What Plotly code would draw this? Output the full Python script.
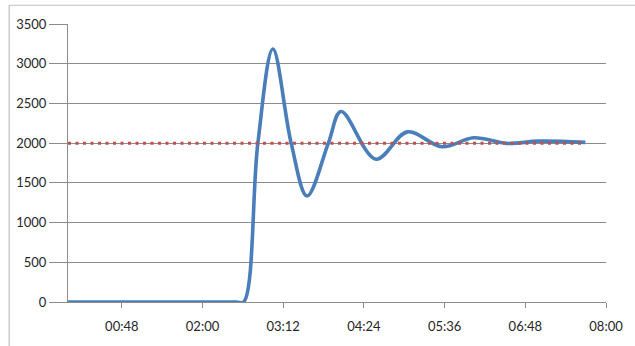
import plotly.graph_objects as go

# time in seconds, value
t_sec = [0, 150, 156.7, 169.4, 182.8, 199.1, 213.3, 232.3, 243.6, 274.7,
         302.8, 333.6, 362.0, 391.4, 419.8, 461.6]
values = [0, 0, 0, 2000, 3185, 2000, 1334, 2000, 2398, 1798,
          2142, 1955, 2067, 1997, 2025, 2010]
target_t = [0, 461.6]
target_v = [2000, 2000]

tick_vals = [48, 120, 192, 264, 336, 408, 480]
tick_text = ["00:48", "02:00", "03:12", "04:24", "05:36", "06:48", "08:00"]
y_ticks = [0, 500, 1000, 1500, 2000, 2500, 3000, 3500]

fig = go.Figure()
fig.add_trace(go.Scatter(x=t_sec, y=values, mode="lines",
                         line=dict(color="#4A7EBB", width=3.6, shape="spline", smoothing=1.0),
                         hoverinfo="skip"))
fig.add_trace(go.Scatter(x=target_t, y=target_v, mode="lines",
                         line=dict(color="#C0504D", width=3, dash="3px,4.5px"),
                         hoverinfo="skip"))

L, R, T, B = 68, 27, 24, 40
W, H = 635 - L - R, 346 - T - B
bx = (9 - L) / W
by = 1 + (T - 5) / H
fig.add_shape(type="line", xref="paper", yref="paper", x0=bx, x1=(640 - L) / W, y0=by, y1=by,
              line=dict(color="#BFBFBF", width=1.2))
fig.add_shape(type="line", xref="paper", yref="paper", x0=bx, x1=bx, y0=by, y1=-(B + 10) / H,
              line=dict(color="#BFBFBF", width=1.2))

fig.update_layout(
    width=635, height=346,
    margin=dict(l=L, r=R, t=T, b=B),
    paper_bgcolor="white", plot_bgcolor="white",
    showlegend=False,
    font=dict(family="Lato", size=13, color="#262626"),
    xaxis=dict(range=[0, 480], tickvals=tick_vals, ticktext=tick_text,
               showgrid=False, zeroline=False, showline=True, linecolor="#8C8C8C", linewidth=1,
               ticks="outside", ticklen=5, tickcolor="#8C8C8C", ticklabelstandoff=7),
    yaxis=dict(range=[0, 3500], tickvals=y_ticks, showgrid=True, gridcolor="#8C8C8C", gridwidth=1,
               zeroline=False, showline=True, linecolor="#8C8C8C", linewidth=1,
               ticks="outside", ticklen=18, tickcolor="#8C8C8C", ticklabelstandoff=0),
)
fig.write_html("out.html")
